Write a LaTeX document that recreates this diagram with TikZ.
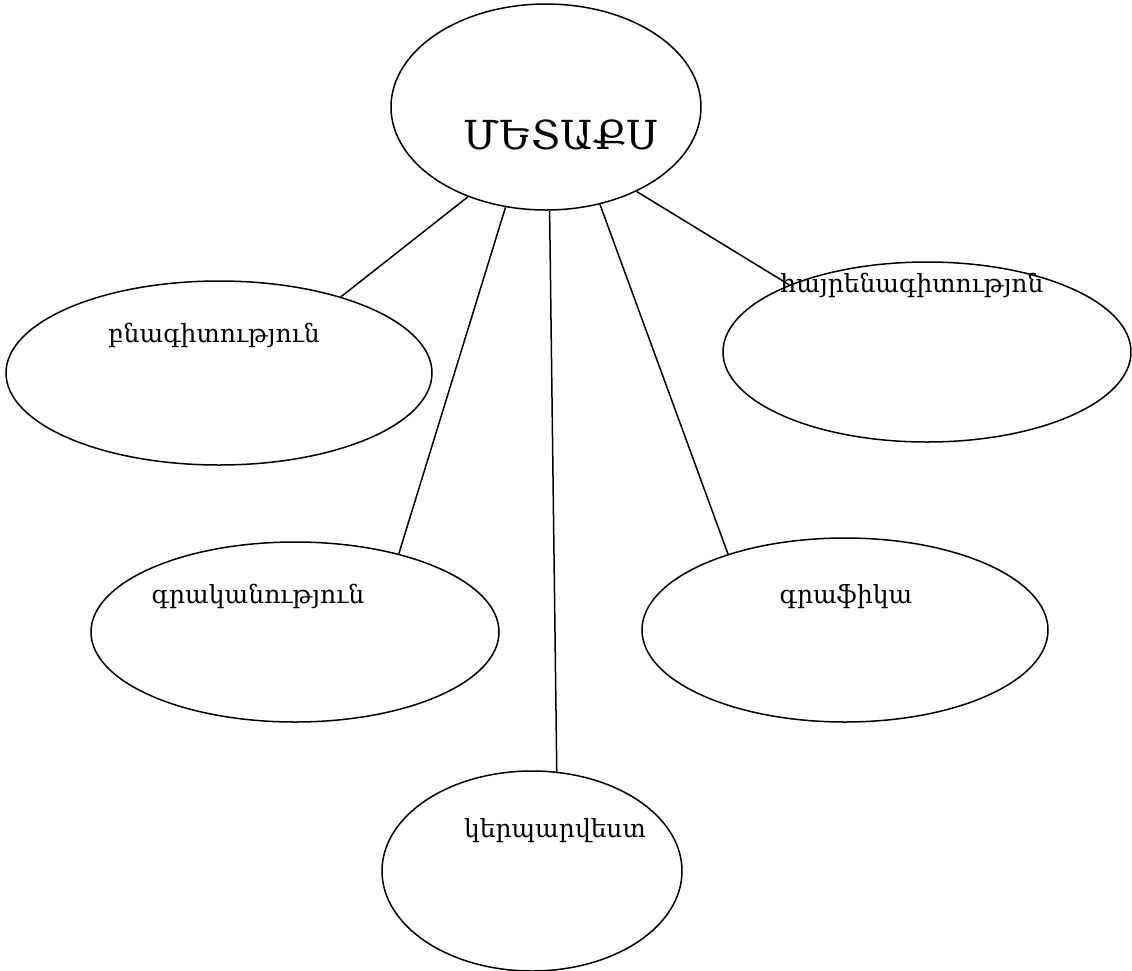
\documentclass[tikz,border=0pt]{standalone}
\usepackage{fontspec}
\setmainfont{DejaVu Serif}
\usetikzlibrary{shapes.geometric}
\begin{document}
\begin{tikzpicture}[x=0.5pt,y=-0.5pt,line width=0.75pt,
    oval/.style={ellipse,draw,inner sep=0pt},
    word/.style={anchor=base,inner sep=0pt,font=\fontsize{12.5}{15}\selectfont}]
    \useasboundingbox (0,0) rectangle (1132,971);

    % the ellipses
    \node[oval,minimum width=155pt,minimum height=103pt] (metaqs) at (546,107) {};
    \node[oval,minimum width=213pt,minimum height=92pt] (bnag) at (219,373) {};
    \node[oval,minimum width=204pt,minimum height=90pt] (hayr) at (927,352) {};
    \node[oval,minimum width=204pt,minimum height=90pt] (grak) at (295,632) {};
    \node[oval,minimum width=203pt,minimum height=92pt] (graf) at (845,630) {};
    \node[oval,minimum width=150pt,minimum height=100pt] (kerp) at (532,871) {};

    % the texts
    \node[word,font=\fontsize{20}{24}\selectfont] (metaqs-t) at (561,149) {ՄԵՏԱՔՍ};
    \node[word] (bnag-t) at (214,342) {բնագիտություն\strut};
    \node[word] (hayr-t) at (912,292) {հայրենագիտությոն\strut};
    \node[word] (grak-t) at (258,603) {գրականություն\strut};
    \node[word] (graf-t) at (846,603) {գրաֆիկա\strut};
    \node[word] (kerp-t) at (555,837) {կերպարվեստ\strut};

    % the connectors
    \draw (metaqs.229) -- (bnag.32);
    \draw (metaqs.248) -- (grak.37);
    \draw (metaqs.272) -- (kerp.76);
    \draw (metaqs.299) -- (graf.147);
    \draw (metaqs.317) -- (hayr.154);
  \end{tikzpicture}
\end{document}
